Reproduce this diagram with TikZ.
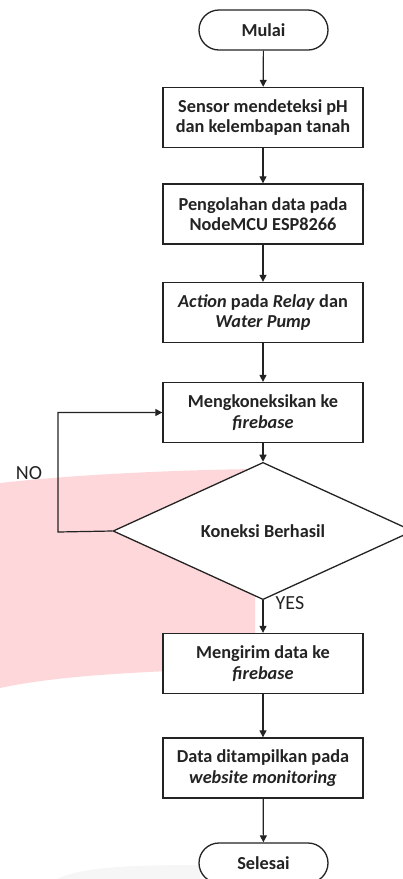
\documentclass[tikz,border=0pt]{standalone}
\usepackage{fontspec}
\setmainfont{Carlito}
\usetikzlibrary{shapes.geometric,arrows.meta}
\definecolor{wm}{RGB}{253,215,218}
\definecolor{wmgray}{RGB}{246,246,246}
\definecolor{ink}{RGB}{35,35,35}
\tikzset{
  procbox/.style={draw=ink, fill=white, line width=1.3pt, minimum width=200pt, minimum height=60pt, align=center, inner sep=0pt, font=\fontsize{18.3}{20.5}\selectfont\bfseries, text=ink},
  termbox/.style={draw=ink, fill=white, line width=1.3pt, rounded corners=20pt, minimum width=129pt, minimum height=40pt, inner sep=0pt, font=\fontsize{18.3}{20.5}\selectfont\bfseries, text=ink},
  decbox/.style={draw=ink, fill=white, line width=1.3pt, diamond, minimum width=300pt, minimum height=96pt, inner sep=0pt, font=\fontsize{18.3}{20.5}\selectfont\bfseries, text=ink},
  lbl/.style={font=\fontsize{20}{22}\selectfont, text=ink, inner sep=0pt},
  conn/.style={draw=ink, line width=1.2pt, -{Triangle[length=7pt,width=7pt]}}
}
\begin{document}
\begin{tikzpicture}[x=1pt,y=-1pt]
\useasboundingbox (0,0) rectangle (403,879);
\fill[wm] (0,483) .. controls (80,474) and (180,470) .. (255,469) -- (255,668) .. controls (150,671) and (60,675) .. (0,688) -- cycle;
\fill[wmgray] (57,879) .. controls (80,868) and (120,865) .. (200,865) -- (200,879) -- cycle;
\node[termbox] (start) at (263.5,30) {Mulai};
\node[procbox] (s1) at (263,117.5) {Sensor mendeteksi pH\\dan kelembapan tanah};
\node[procbox] (s2) at (263,214) {Pengolahan data pada\\NodeMCU ESP8266};
\node[procbox] (s3) at (263,312.5) {\textit{Action} pada \textit{Relay} dan\\\textit{Water Pump}};
\node[procbox] (s4) at (263,412.5) {Mengkoneksikan ke\\\textit{firebase}};
\node[decbox] (dec) at (263,531) {Koneksi Berhasil};
\node[procbox] (s5) at (263,663.5) {Mengirim data ke\\\textit{firebase}};
\node[procbox] (s6) at (263,768) {Data ditampilkan pada\\\textit{website monitoring}};
\node[termbox] (stop) at (263.5,863) {Selesai};
\coordinate (lb) at (58,532);
\coordinate (lt) at (58,412.5);
\node[lbl] (no) at (29,473) {NO};
\node[lbl] (yes) at (290,603) {YES};
\draw[conn] (start) -- (s1);
\draw[conn] (s1) -- (s2);
\draw[conn] (s2) -- (s3);
\draw[conn] (s3) -- (s4);
\draw[conn] (s4) -- (dec);
\draw[conn] (dec) -- (s5);
\draw[conn] (s5) -- (s6);
\draw[conn] (s6) -- (stop);
\draw[conn] (dec.west) -- (lb) -- (lt) -- (s4.west);
\end{tikzpicture}
\end{document}
